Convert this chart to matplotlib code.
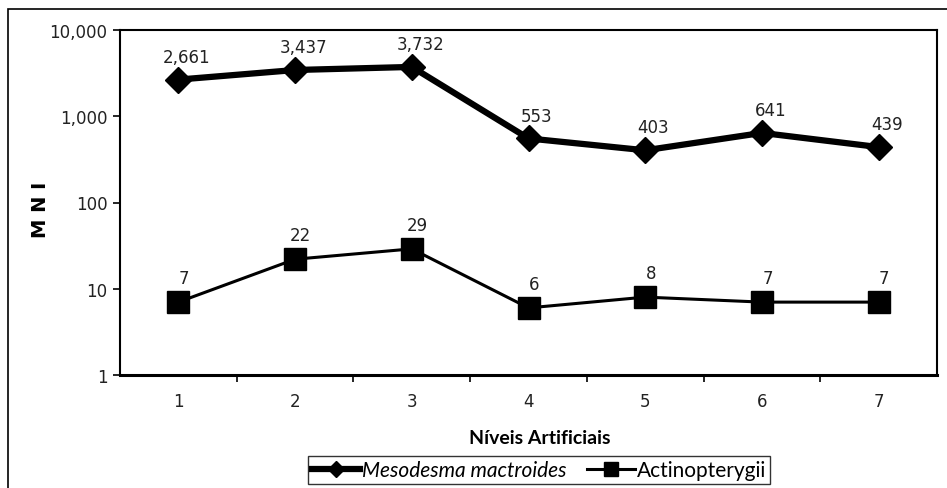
import matplotlib.pyplot as plt
from matplotlib.patches import Rectangle
from matplotlib.ticker import FixedLocator, FuncFormatter, NullLocator

plt.rcParams['font.family'] = ['DejaVu Sans']

niveis = [1, 2, 3, 4, 5, 6, 7]
mesodesma = [2661, 3437, 3732, 553, 403, 641, 439]
actino = [7, 22, 29, 6, 8, 7, 7]

fig = plt.figure(figsize=(9.47, 4.89), dpi=100, facecolor='w')
ax = fig.add_axes([120 / 947, 1 - 376 / 489, (937 - 120) / 947, (376 - 31) / 489])

# outer chart border
fig.patches.append(Rectangle((8 / 947, -0.1), 1.2, 1.1 - 10 / 489, transform=fig.transFigure,
                             fill=False, ec='black', lw=1.2))

ax.plot(niveis, mesodesma, color='black', lw=4.5, marker='D', ms=13,
        label='Mesodesma mactroides')
ax.plot(niveis, actino, color='black', lw=2.2, marker='s', ms=16,
        label='Actinopterygii')

for x, y in zip(niveis, mesodesma):
    ax.annotate(f'{y:,}', (x, y), xytext=(6, 10), textcoords='offset points',
                ha='center', va='bottom', fontsize=12, color='#222222')
for x, y in zip(niveis, actino):
    ax.annotate(f'{y:,}', (x, y), xytext=(4, 11), textcoords='offset points',
                ha='center', va='bottom', fontsize=12, color='#222222')

ax.set_yscale('log')
ax.set_ylim(1, 10000)
ax.set_xlim(0.5, 7.5)
ax.yaxis.set_major_locator(FixedLocator([1, 10, 100, 1000, 10000]))
ax.yaxis.set_minor_locator(NullLocator())
ax.yaxis.set_major_formatter(FuncFormatter(lambda v, p: f'{int(round(v)):,}'))
ax.set_xticks(niveis)
ax.set_xticks([1.5, 2.5, 3.5, 4.5, 5.5, 6.5], minor=True)
ax.tick_params(axis='x', which='major', length=0, pad=12, labelsize=12, labelcolor='#222222')
ax.tick_params(axis='x', which='minor', length=5, width=1.2, direction='out')
ax.tick_params(axis='y', length=5, width=1.2, direction='out', labelsize=12, pad=4,
               labelcolor='#222222')

for s in ['top', 'right', 'left']:
    ax.spines[s].set_linewidth(1.5)
ax.spines['bottom'].set_linewidth(2.2)

fig.text(40 / 947, 1 - 210 / 489, 'M N I', rotation=90, ha='center', va='center',
         fontsize=14, fontweight='bold')
fig.text(540 / 947, 1 - 439 / 489, 'Níveis Artificiais', family='Lato',
         ha='center', va='center', fontsize=14, fontweight='bold')

leg = fig.legend(loc='center', bbox_to_anchor=(539 / 947, 1 - 471 / 489), ncol=2,
                 frameon=True, fancybox=False, edgecolor='black',
                 prop={'family': 'Lato', 'size': 15},
                 handlelength=2.3, handletextpad=0.1, columnspacing=1.0,
                 borderpad=0.2, markerscale=0.6)
leg.get_frame().set_linewidth(1.0)
leg.get_texts()[0].set_fontstyle('italic')

fig.savefig('out.png', dpi=100, facecolor='w')
